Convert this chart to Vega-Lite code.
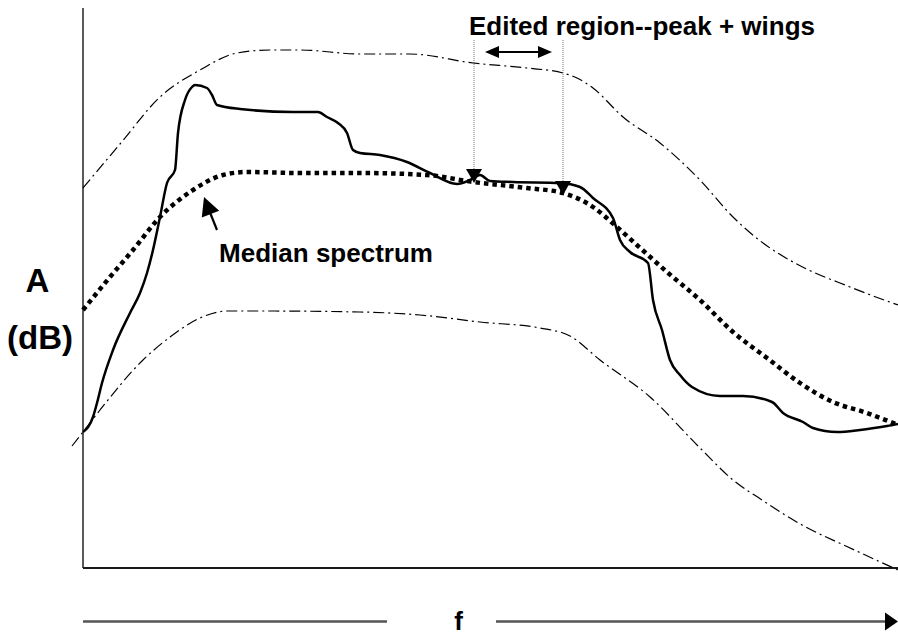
{
  "$schema": "https://vega.github.io/schema/vega-lite/v6.json",
  "width": 898,
  "height": 635,
  "padding": 0,
  "autosize": "none",
  "background": "white",
  "config": {"view": {"stroke": null}},
  "datasets": {
    "solid": [
      {"f":83,"a":203},{"f":93,"a":218},{"f":97,"a":232},{"f":102,"a":252},{"f":113,"a":285},{"f":130,"a":322},{"f":140,"a":342},{"f":147,"a":362},{"f":153,"a":385},{"f":160,"a":418},{"f":167,"a":452},{"f":175,"a":465},{"f":178,"a":502},{"f":185,"a":535},{"f":192,"a":548},{"f":195,"a":550},{"f":207,"a":547},{"f":212,"a":540},{"f":217,"a":530},{"f":240,"a":526},{"f":293,"a":523},{"f":318,"a":523},{"f":327,"a":518},{"f":338,"a":512},{"f":347,"a":502},{"f":353,"a":485},{"f":360,"a":482},{"f":380,"a":480},{"f":407,"a":473},{"f":430,"a":462},{"f":457,"a":451},{"f":470,"a":455},{"f":480,"a":460},{"f":490,"a":454},{"f":513,"a":453},{"f":560,"a":452},{"f":580,"a":448},{"f":593,"a":437},{"f":613,"a":417},{"f":620,"a":395},{"f":630,"a":383},{"f":648,"a":372},{"f":653,"a":335},{"f":662,"a":305},{"f":670,"a":275},{"f":680,"a":260},{"f":692,"a":248},{"f":720,"a":239},{"f":743,"a":239},{"f":772,"a":233},{"f":783,"a":222},{"f":803,"a":213},{"f":813,"a":207},{"f":837,"a":203},{"f":860,"a":205},{"f":887,"a":209},{"f":898,"a":211}
    ],
    "median": [
      {"f":83,"a":325},{"f":110,"a":358},{"f":133,"a":385},{"f":160,"a":418},{"f":193,"a":445},{"f":223,"a":460},{"f":247,"a":463},{"f":300,"a":462},{"f":360,"a":462},{"f":427,"a":460},{"f":473,"a":453},{"f":527,"a":447},{"f":563,"a":442},{"f":593,"a":428},{"f":617,"a":408},{"f":638,"a":389},{"f":667,"a":363},{"f":700,"a":335},{"f":733,"a":303},{"f":767,"a":277},{"f":800,"a":252},{"f":833,"a":233},{"f":867,"a":222},{"f":898,"a":210}
    ],
    "upper": [
      {"f":83,"a":447},{"f":120,"a":491},{"f":160,"a":538},{"f":200,"a":565},{"f":237,"a":582},{"f":270,"a":585},{"f":300,"a":585},{"f":360,"a":581},{"f":410,"a":581},{"f":473,"a":572},{"f":527,"a":567},{"f":563,"a":562},{"f":577,"a":557},{"f":593,"a":547},{"f":623,"a":518},{"f":660,"a":492},{"f":700,"a":455},{"f":733,"a":418},{"f":763,"a":392},{"f":793,"a":373},{"f":850,"a":348},{"f":898,"a":330}
    ],
    "lower": [
      {"f":72,"a":189},{"f":83,"a":203},{"f":100,"a":225},{"f":143,"a":275},{"f":170,"a":298},{"f":200,"a":317},{"f":227,"a":324},{"f":260,"a":324},{"f":360,"a":323},{"f":420,"a":320},{"f":480,"a":313},{"f":540,"a":307},{"f":570,"a":299},{"f":600,"a":275},{"f":650,"a":238},{"f":700,"a":187},{"f":733,"a":155},{"f":762,"a":135},{"f":802,"a":110},{"f":848,"a":88},{"f":898,"a":65}
    ],
    "segments": [
      {"kind":"yaxis","f":83,"a":627,"f2":83,"a2":67},
      {"kind":"xaxis","f":83,"a":67,"f2":898,"a2":67},
      {"kind":"guide","f":474,"a":595,"f2":474,"a2":464},
      {"kind":"guide","f":563,"a":595,"f2":563,"a2":453},
      {"kind":"arrow","f":492,"a":583,"f2":545,"a2":583},
      {"kind":"arrow","f":217,"a":405,"f2":209,"a2":425},
      {"kind":"faxis","f":83,"a":13.5,"f2":387,"a2":13.5},
      {"kind":"faxis","f":496,"a":13.5,"f2":886,"a2":13.5}
    ],
    "heads": [
      {"kind":"down","f":474,"a":452},
      {"kind":"down","f":563,"a":440},
      {"kind":"left","f":485,"a":583},
      {"kind":"right","f":552,"a":583},
      {"kind":"fright","f":898,"a":13.5},
      {"kind":"median","f":204,"a":438}
    ],
    "labels": [
      {"kind":"normal","f":642,"a":600,"label":"Edited region--peak + wings"},
      {"kind":"normal","f":326,"a":373,"label":"Median spectrum"},
      {"kind":"normal","f":458.5,"a":5,"label":"f"},
      {"kind":"big","f":37.5,"a":343,"label":"A"},
      {"kind":"big","f":40,"a":286,"label":"(dB)"}
    ]
  },
  "encoding": {
    "x": {"field": "f", "type": "quantitative", "scale": {"domain": [0, 898], "nice": false, "zero": false}, "axis": null},
    "y": {"field": "a", "type": "quantitative", "scale": {"domain": [0, 635], "nice": false, "zero": false}, "axis": null}
  },
  "layer": [
    {"data": {"name": "segments"}, "transform": [{"filter": "datum.kind === 'yaxis'"}], "mark": {"type": "rule", "color": "#5a5a5a", "strokeWidth": 2}, "encoding": {"x2": {"field": "f2"}, "y2": {"field": "a2"}}},
    {"data": {"name": "segments"}, "transform": [{"filter": "datum.kind === 'xaxis'"}], "mark": {"type": "rule", "color": "#1a1a1a", "strokeWidth": 2}, "encoding": {"x2": {"field": "f2"}, "y2": {"field": "a2"}}},
    {"data": {"name": "segments"}, "transform": [{"filter": "datum.kind === 'faxis'"}], "mark": {"type": "rule", "color": "#555555", "strokeWidth": 2.5}, "encoding": {"x2": {"field": "f2"}, "y2": {"field": "a2"}}},
    {"data": {"name": "segments"}, "transform": [{"filter": "datum.kind === 'guide'"}], "mark": {"type": "rule", "color": "#777777", "strokeWidth": 1, "strokeDash": [1, 1]}, "encoding": {"x2": {"field": "f2"}, "y2": {"field": "a2"}}},
    {"data": {"name": "segments"}, "transform": [{"filter": "datum.kind === 'arrow'"}], "mark": {"type": "rule", "color": "black", "strokeWidth": 2.2}, "encoding": {"x2": {"field": "f2"}, "y2": {"field": "a2"}}},
    {"data": {"name": "upper"}, "mark": {"type": "line", "color": "black", "strokeWidth": 1.2, "strokeDash": [11, 4, 2, 4], "interpolate": "monotone"}},
    {"data": {"name": "lower"}, "mark": {"type": "line", "color": "black", "strokeWidth": 1.2, "strokeDash": [11, 4, 2, 4], "interpolate": "monotone"}},
    {"data": {"name": "median"}, "mark": {"type": "line", "color": "black", "strokeWidth": 4.5, "strokeDash": [4.5, 4], "interpolate": "monotone"}},
    {"data": {"name": "solid"}, "mark": {"type": "line", "color": "black", "strokeWidth": 2.5, "interpolate": "monotone"}},
    {"data": {"name": "heads"}, "transform": [{"filter": "datum.kind === 'down'"}], "mark": {"type": "point", "filled": true, "color": "black", "opacity": 1, "size": 4, "shape": "M0,0 L-8,-14 L8,-14 Z"}},
    {"data": {"name": "heads"}, "transform": [{"filter": "datum.kind === 'left'"}], "mark": {"type": "point", "filled": true, "color": "black", "opacity": 1, "size": 4, "shape": "M0,0 L14,-6 L14,6 Z"}},
    {"data": {"name": "heads"}, "transform": [{"filter": "datum.kind === 'right'"}], "mark": {"type": "point", "filled": true, "color": "black", "opacity": 1, "size": 4, "shape": "M0,0 L-14,-6 L-14,6 Z"}},
    {"data": {"name": "heads"}, "transform": [{"filter": "datum.kind === 'fright'"}], "mark": {"type": "point", "filled": true, "color": "black", "opacity": 1, "size": 4, "shape": "M0,0 L-13,-9 L-13,9 Z"}},
    {"data": {"name": "heads"}, "transform": [{"filter": "datum.kind === 'median'"}], "mark": {"type": "point", "filled": true, "color": "black", "opacity": 1, "size": 4, "shape": "M0,0 L-2.2,20.5 L15.2,13.7 Z"}},
    {"data": {"name": "labels"}, "transform": [{"filter": "datum.kind === 'normal'"}], "mark": {"type": "text", "font": "Liberation Sans", "fontWeight": "bold", "fontSize": 26, "align": "center", "baseline": "alphabetic", "color": "black"}, "encoding": {"text": {"field": "label"}}},
    {"data": {"name": "labels"}, "transform": [{"filter": "datum.kind === 'big'"}], "mark": {"type": "text", "font": "Liberation Sans", "fontWeight": "bold", "fontSize": 33, "align": "center", "baseline": "alphabetic", "color": "black"}, "encoding": {"text": {"field": "label"}}}
  ]
}
